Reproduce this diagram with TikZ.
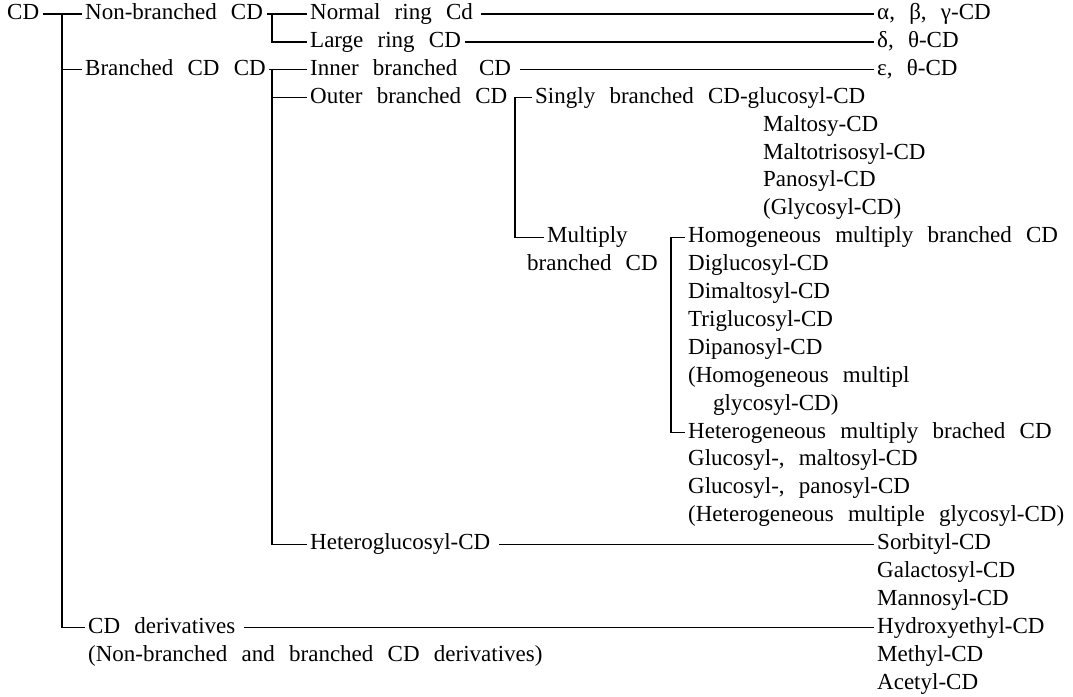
\documentclass[tikz,border=0pt]{standalone}
\usepackage{fontspec}
\setmainfont{Liberation Serif}
\usepackage{tikz}
\newcommand{\treefont}{\fontsize{23pt}{27.9pt}\selectfont\spaceskip=0.62em plus 0.1em\relax}
\tikzset{
  treenode/.style = {anchor=west, inner xsep=4pt, inner ysep=0pt,
    text height=16pt, text depth=5pt, font=\treefont},% every label of the tree
  branch/.style = {line width=1.2pt, line cap=rect},% the lines of the tree
  leader/.style = {branch, shorten <=5pt}% long lines out to the right column
}

\begin{document}
\begin{tikzpicture}[x=1pt, y=-27.9pt, every node/.style=treenode]
  \useasboundingbox (0,0.498) rectangle (1073,25.48);
  % root and first level
  \node (cd) at (3,1) {CD};
  \node (nb) at (81,1) {Non-branched CD};
  \node (br) at (81,3) {Branched CD CD};
  \node (der) at (84,23) {CD derivatives};
  \node (dernote) at (84,24) {(Non-branched and branched CD derivatives)};
  % second level
  \node (nr) at (306,1) {Normal ring Cd};
  \node (lr) at (306,2) {Large ring CD};
  \node (ib) at (306,3) {Inner branched\hspace{0.95em}CD};
  \node (ob) at (306,4) {Outer branched CD};
  \node (hg) at (306,20) {Heteroglucosyl-CD};
  % outer branched
  \node (sb) at (531,4) {Singly branched CD-glucosyl-CD};
  \node (mal) at (759,5) {Maltosy-CD};
  \node (mtr) at (759,6) {Maltotrisosyl-CD};
  \node (pan) at (759,7) {Panosyl-CD};
  \node (gly) at (759,8) {(Glycosyl-CD)};
  \node (mb1) at (543,9) {Multiply};
  \node (mb2) at (523,10) {branched CD};
  % multiply branched
  \node (hom) at (684,9) {Homogeneous multiply branched CD};
  \node (dig) at (684,10) {Diglucosyl-CD};
  \node (dim) at (684,11) {Dimaltosyl-CD};
  \node (tri) at (684,12) {Triglucosyl-CD};
  \node (dip) at (684,13) {Dipanosyl-CD};
  \node (hmg) at (684,14) {(Homogeneous multipl};
  \node (hmg2) at (709,15) {glycosyl-CD)};
  \node (het) at (684,16) {Heterogeneous multiply brached CD};
  \node (gm) at (684,17) {Glucosyl-, maltosyl-CD};
  \node (gp) at (684,18) {Glucosyl-, panosyl-CD};
  \node (hmul) at (684,19) {(Heterogeneous multiple glycosyl-CD)};
  % right column
  \node (abg) at (873,1) {α, β, γ-CD};
  \node (dt) at (873,2) {δ, θ-CD};
  \node (et) at (873,3) {ε, θ-CD};
  \node (sor) at (873,20) {Sorbityl-CD};
  \node (gal) at (873,21) {Galactosyl-CD};
  \node (man) at (873,22) {Mannosyl-CD};
  \node (hyd) at (873,23) {Hydroxyethyl-CD};
  \node (met) at (873,24) {Methyl-CD};
  \node (ace) at (873,25) {Acetyl-CD};
  % junctions
  \coordinate (j0) at (62,1);
  \coordinate (j1) at (272,1);
  \coordinate (j2) at (272,3);
  \coordinate (j3) at (515,4);
  \coordinate (j4) at (671,9);
  % lines
  \draw[branch] (cd) -- (nb);
  \draw[branch] (j0) |- (br.west);
  \draw[branch] (j0) |- (der.west);
  \draw[branch] (nb) -- (nr);
  \draw[branch] (j1) |- (lr.west);
  \draw[branch] (br) -- (ib);
  \draw[branch] (j2) |- (ob.west);
  \draw[branch] (j2) |- (hg.west);
  \draw[leader] (nr) -- (abg);
  \draw[branch] (lr) -- (dt);
  \draw[leader] (ib) -- (et);
  \draw[leader] (hg) -- (sor);
  \draw[leader] (der) -- (hyd);
  \draw[branch] (sb.west) -- (j3) |- (mb1.west);
  \draw[branch] (hom.west) -- (j4) |- (het.west);
\end{tikzpicture}
\end{document}
